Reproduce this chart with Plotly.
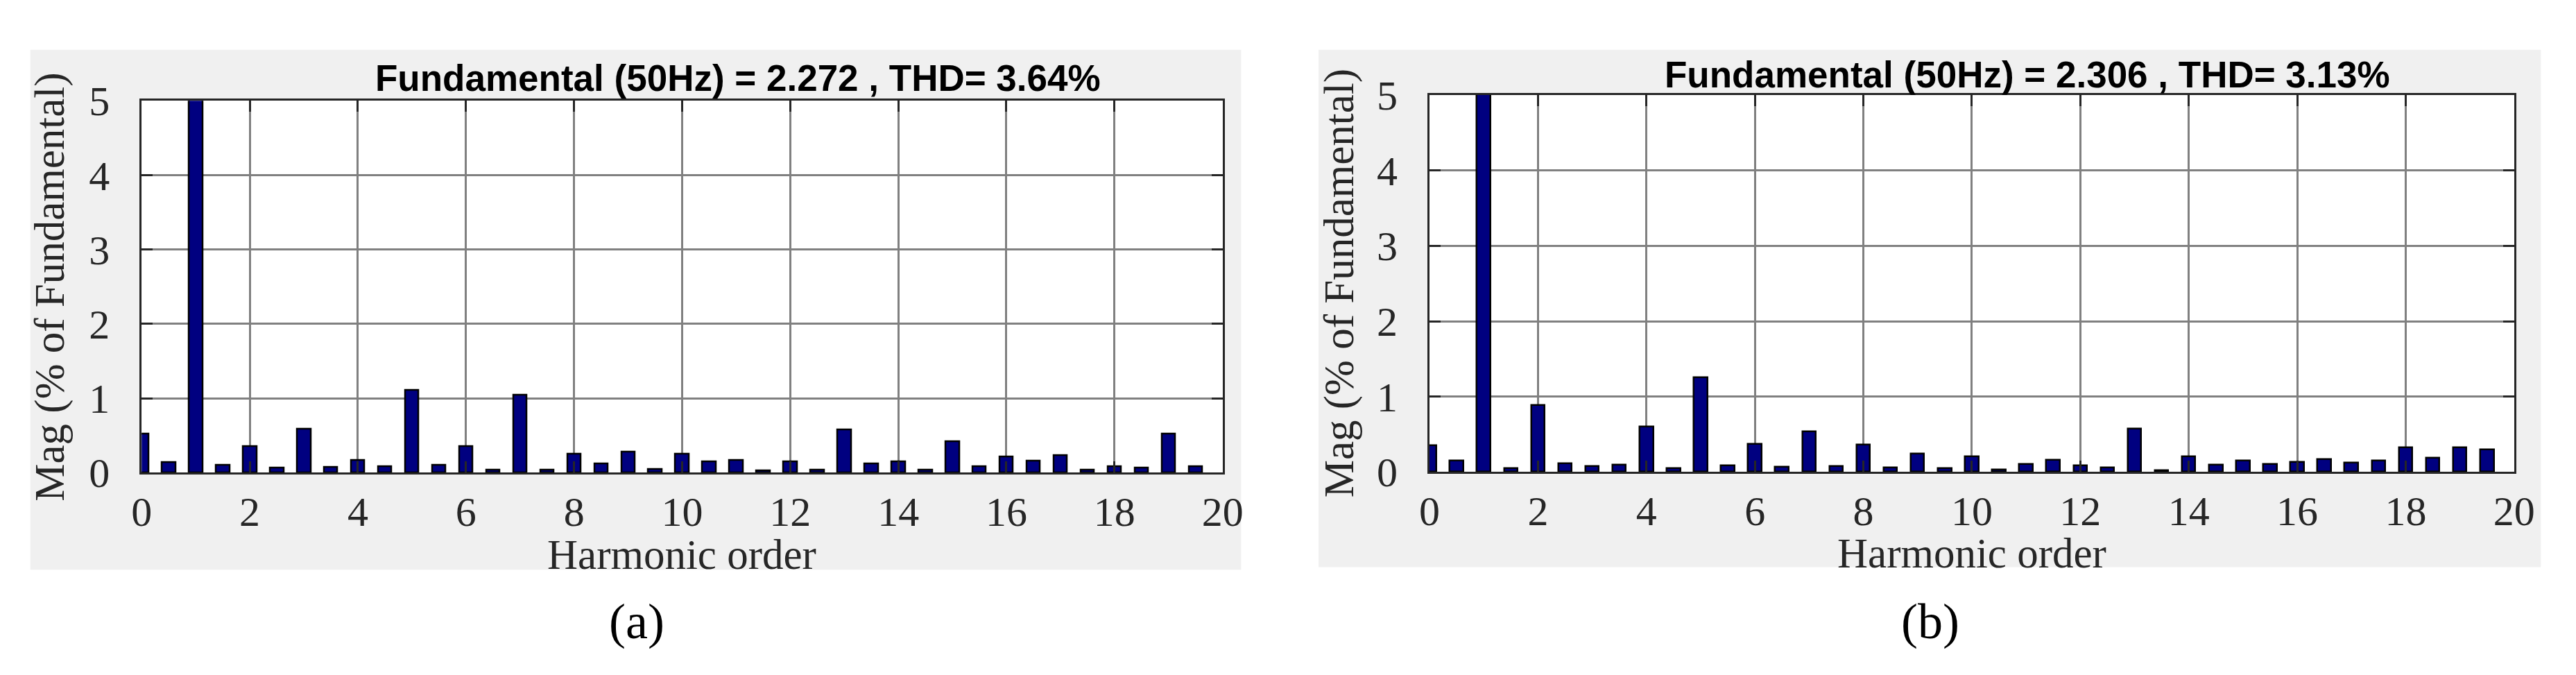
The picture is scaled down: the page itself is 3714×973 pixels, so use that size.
import plotly.graph_objects as go

W, H = 3714, 973

# ---------------- data ----------------
harmonic_order = [0, 0.5, 1, 1.5, 2, 2.5, 3, 3.5, 4, 4.5, 5, 5.5, 6, 6.5, 7, 7.5,
                  8, 8.5, 9, 9.5, 10, 10.5, 11, 11.5, 12, 12.5, 13, 13.5, 14, 14.5,
                  15, 15.5, 16, 16.5, 17, 17.5, 18, 18.5, 19, 19.5]

mag_a = [0.52, 0.14, 100, 0.10, 0.355, 0.064, 0.59, 0.07, 0.167, 0.085,
         1.11, 0.106, 0.355, 0.04, 1.046, 0.04, 0.25, 0.12, 0.277, 0.05,
         0.25, 0.145, 0.167, 0.03, 0.152, 0.04, 0.58, 0.124, 0.145, 0.04,
         0.42, 0.085, 0.213, 0.156, 0.23, 0.04, 0.085, 0.067, 0.525, 0.085]

mag_b = [0.357, 0.15, 100, 0.05, 0.885, 0.115, 0.08, 0.098, 0.60, 0.05,
         1.26, 0.09, 0.37, 0.073, 0.54, 0.08, 0.36, 0.056, 0.24, 0.05,
         0.21, 0.03, 0.11, 0.157, 0.09, 0.056, 0.577, 0.02, 0.21, 0.098,
         0.15, 0.11, 0.13, 0.168, 0.126, 0.15, 0.33, 0.185, 0.33, 0.30]

titles = ["Fundamental (50Hz) = 2.272 , THD= 3.64%",
          "Fundamental (50Hz) = 2.306 , THD= 3.13%"]
panel_labels = ["(a)", "(b)"]
x_ticks = [0, 2, 4, 6, 8, 10, 12, 14, 16, 18, 20]
y_ticks = [0, 1, 2, 3, 4, 5]
x_title = "Harmonic order"
y_title = "Mag (% of Fundamental)"

# ---------------- layout helpers (pixels) ----------------
def px_x(v):
    return v / W

def px_y(v):
    return 1 - v / H

plots = [
    dict(x0=183.5, x1=1761, y0=113, y1=688, gray=(21, 1788, 34, 838),
         title_x=1054, title_y=78, ylab_x=50, xlab_y=815, lab_x=906),
    dict(x0=2063, x1=3646, y0=104, y1=687, gray=(1901, 3685, 34, 834),
         title_x=2936, title_y=72, ylab_x=1931, xlab_y=813, lab_x=2794),
]

SERIF = "Liberation Serif, Times New Roman, serif"
TXT = "#262626"

fig = go.Figure()

shapes = []
annotations = []
for i, (p, mag) in enumerate(zip(plots, [mag_a, mag_b])):
    xa = "x" if i == 0 else "x2"
    ya = "y" if i == 0 else "y2"
    fig.add_trace(go.Bar(
        x=harmonic_order, y=mag, xaxis=xa, yaxis=ya,
        width=0.25,
        marker=dict(color="#000080", line=dict(color="#000000", width=2.5)),
        showlegend=False,
    ))
    gx0, gx1, gy0, gy1 = p["gray"]
    shapes.append(dict(type="rect", xref="paper", yref="paper", layer="below",
                       x0=px_x(gx0), x1=px_x(gx1), y0=px_y(gy1), y1=px_y(gy0),
                       fillcolor="#f0f0f0", line=dict(width=0)))
    shapes.append(dict(type="rect", xref="paper", yref="paper", layer="below",
                       x0=px_x(p["x0"]), x1=px_x(p["x1"]), y0=px_y(p["y1"]), y1=px_y(p["y0"]),
                       fillcolor="#ffffff", line=dict(width=0)))
    axis_common = dict(showline=True, linecolor=TXT, linewidth=3, mirror="ticks",
                       ticks="inside", ticklen=16, tickwidth=3, tickcolor=TXT,
                       showgrid=True, gridcolor="#808080", gridwidth=2.5,
                       zeroline=False,
                       tickfont=dict(family=SERIF, size=60, color=TXT))
    xkey = "xaxis" if i == 0 else "xaxis2"
    ykey = "yaxis" if i == 0 else "yaxis2"
    fig.update_layout(**{
        xkey: dict(axis_common, domain=[px_x(p["x0"]), px_x(p["x1"])], range=[0, 20],
                   tickvals=x_ticks, ticktext=[str(t) for t in x_ticks],
                   anchor=ya, ticklabelstandoff=2),
        ykey: dict(axis_common, domain=[px_y(p["y1"]), px_y(p["y0"])], range=[0, 5],
                   tickvals=y_ticks, ticktext=[str(t) for t in y_ticks],
                   anchor=xa, ticklabelstandoff=31),
    })
    annotations.append(dict(text=titles[i], xref="paper", yref="paper",
                            x=px_x(p["title_x"]), y=px_y(p["title_y"]),
                            xanchor="center", yanchor="middle", showarrow=False,
                            font=dict(family="Liberation Sans Narrow, Arial Narrow, Liberation Sans, Arial",
                                      size=53, color="#000000", weight="bold")))
    annotations.append(dict(text=y_title, xref="paper", yref="paper",
                            x=px_x(p["ylab_x"]), y=px_y((p["y0"] + p["y1"]) / 2),
                            xanchor="center", yanchor="middle", showarrow=False, textangle=-90,
                            font=dict(family=SERIF, size=61, color=TXT)))
    annotations.append(dict(text=x_title, xref="paper", yref="paper",
                            x=px_x((p["x0"] + p["x1"]) / 2), y=px_y(p["xlab_y"]),
                            xanchor="center", yanchor="middle", showarrow=False,
                            font=dict(family=SERIF, size=61, color=TXT)))
    annotations.append(dict(text=panel_labels[i], xref="paper", yref="paper",
                            x=px_x(p["lab_x"]), y=px_y(918),
                            xanchor="center", yanchor="middle", showarrow=False,
                            font=dict(family=SERIF, size=72, color="#000000")))

fig.update_layout(
    width=W, height=H, autosize=False,
    margin=dict(l=0, r=0, t=0, b=0),
    paper_bgcolor="#ffffff", plot_bgcolor="#ffffff",
    shapes=shapes, annotations=annotations, bargap=0,
)

fig.write_html("out.html")
